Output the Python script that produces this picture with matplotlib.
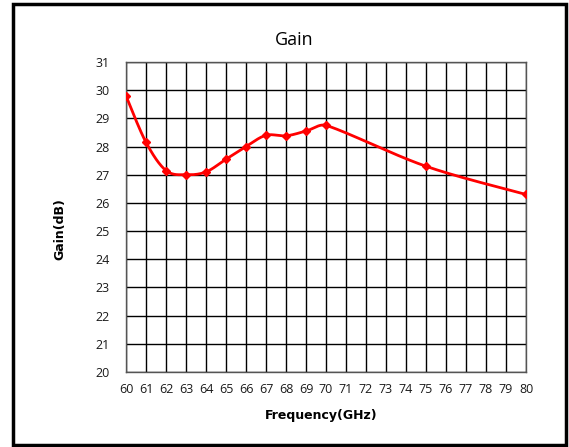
import numpy as np
import matplotlib
matplotlib.use("Agg")
import matplotlib.pyplot as plt
from matplotlib.patches import Rectangle

freq = [60, 61, 62, 63, 64, 65, 66, 67, 68, 69, 70, 75, 80]
gain = [29.8, 28.15, 27.15, 27.0, 27.1, 27.55, 28.0, 28.4, 28.38, 28.55, 28.75, 27.3, 26.3]
xticks = list(range(60, 81))
yticks = list(range(20, 32))

plt.rcParams['font.family'] = ['Open Sans', 'DejaVu Sans']

fig = plt.figure(figsize=(5.69, 4.47), dpi=100)
ax = fig.add_axes([126/569, 1-372/447, 400/569, 310/447])

# Excel-like smoothing (Catmull-Rom Bezier with limited handles)
P = np.column_stack([freq, gain]).astype(float)
n = len(P)
xs, ys = [], []
t = np.linspace(0, 1, 40)
for i in range(n-1):
    p0 = P[i-1] if i > 0 else P[i]
    p1 = P[i]
    p2 = P[i+1]
    p3 = P[i+2] if i+2 < n else P[i+1]
    dx = p2[0] - p1[0]
    h1 = (p2 - p0)/6
    h2 = (p3 - p1)/6
    if abs(h1[0]) > dx/3:
        h1 = h1 * (dx/3)/abs(h1[0])
    if abs(h2[0]) > dx/3:
        h2 = h2 * (dx/3)/abs(h2[0])
    c1 = p1 + h1
    c2 = p2 - h2
    seg = ((1-t)**3)[:, None]*p1 + (3*(1-t)**2*t)[:, None]*c1 + (3*(1-t)*t**2)[:, None]*c2 + (t**3)[:, None]*p2
    xs.extend(seg[:, 0]); ys.extend(seg[:, 1])

ax.plot(xs, ys, color='#ff0000', lw=2, zorder=3)
ax.plot(freq, gain, linestyle='none', marker='D', ms=4.5, color='#ff0000', zorder=4)

ax.set_xlim(60, 80)
ax.set_ylim(20, 31)
ax.set_xticks(xticks)
ax.set_yticks(yticks)
ax.set_xticklabels([str(v) for v in xticks], fontsize=9, color='#1a1a1a')
ax.set_yticklabels([str(v) for v in yticks], fontsize=9, color='#1a1a1a')
ax.tick_params(axis='x', length=0, pad=8)
ax.tick_params(axis='y', length=0, pad=12)
ax.grid(True, color='black', lw=1)
ax.set_axisbelow(True)
for s in ax.spines.values():
    s.set_color('#555555')
    s.set_linewidth(1)

fig.text(294/569, 1-40/447, 'Gain', ha='center', va='center', fontsize=13)
fig.text(321/569, 1-416/447, 'Frequency(GHz)', ha='center', va='center', fontsize=9,
         fontweight='bold', family='DejaVu Sans')
fig.text(60/569, 1-229/447, 'Gain(dB)', ha='center', va='center', rotation=90, fontsize=9,
         fontweight='bold', family='DejaVu Sans')

fig.patches.append(Rectangle((13/569, 2/447), 553/569, 441/447, transform=fig.transFigure,
                             fill=False, edgecolor='black', lw=2.5))

fig.savefig('out.png', dpi=100)
